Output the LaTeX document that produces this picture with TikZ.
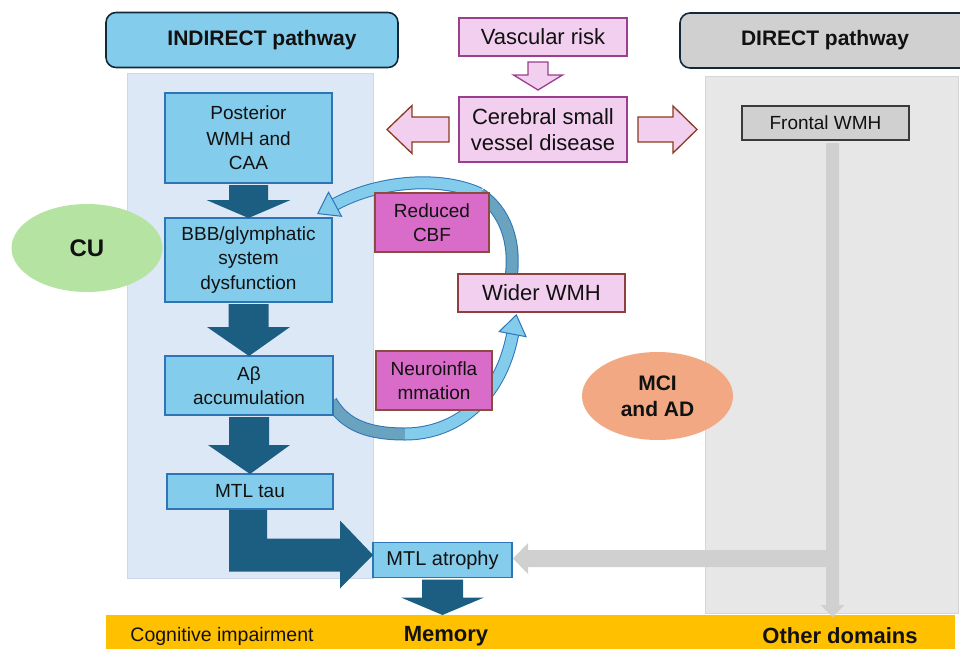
\documentclass[tikz,border=0pt]{standalone}
\usepackage{fontspec}
\setmainfont{Liberation Sans}
\usetikzlibrary{arrows.meta,calc,shapes.geometric}
\definecolor{hblue}{HTML}{83CCEB}
\definecolor{bblue}{HTML}{2E75B6}
\definecolor{hdredge}{HTML}{13293A}
\definecolor{panelblue}{HTML}{DCE8F5}
\definecolor{panelblueedge}{HTML}{C8D9EC}
\definecolor{darrow}{HTML}{1C5D82}
\definecolor{pinkf}{HTML}{F2CEEF}
\definecolor{purpleedge}{HTML}{9A3E8E}
\definecolor{brownedge}{HTML}{8A3A1E}
\definecolor{magf}{HTML}{D86CC8}
\definecolor{magedge}{HTML}{8C4A40}
\definecolor{wideredge}{HTML}{8E4040}
\definecolor{grayhdr}{HTML}{D0D0D0}
\definecolor{graypanel}{HTML}{E7E7E7}
\definecolor{graypaneledge}{HTML}{D6D6D6}
\definecolor{grayarrow}{HTML}{D0D0D0}
\definecolor{frontaledge}{HTML}{3A3A3A}
\definecolor{barY}{HTML}{FFC000}
\definecolor{cugreen}{HTML}{B5E3A2}
\definecolor{mciorange}{HTML}{F2A983}
\definecolor{arcdark}{HTML}{69A3BF}
\definecolor{txt}{HTML}{111111}
\newcommand{\bdown}[6]{%
  \fill[#1] ($#2+(-#4,2)$) -- ($#2+(#4,2)$) -- ($#2+(#4,#6)$) -- ($#2+(#5,#6)$) -- #3 -- ($#2+(-#5,#6)$) -- ($#2+(-#4,#6)$) -- cycle;}
\begin{document}
\begin{tikzpicture}[x=1pt,y=-1pt,
  every node/.style={inner sep=0pt, outer sep=0pt, text=txt},
  hdr/.style={rectangle, rounded corners=10pt, line width=1.6pt, draw=hdredge, font=\bfseries\fontsize{21}{25}\selectfont},
  panelbox/.style={rectangle, line width=0.8pt},
  bluebox/.style={rectangle, draw=bblue, fill=hblue, line width=1.3pt, align=center, font=\fontsize{19}{24.5}\selectfont},
  pinkbox/.style={rectangle, draw=purpleedge, fill=pinkf, line width=1.3pt, align=center, font=\fontsize{22}{26}\selectfont},
  magbox/.style={rectangle, draw=magedge, fill=magf, line width=1.3pt, align=center, font=\fontsize{19}{24}\selectfont},
  oval/.style={ellipse, align=center, font=\bfseries\fontsize{21}{26}\selectfont},
  darkarr/.style={fill=darrow},
  hollowP/.style={fill=pinkf, draw=purpleedge, line width=1.3pt},
  hollowB/.style={fill=pinkf, draw=brownedge, line width=1.3pt},
  bartext/.style={font=\fontsize{19.5}{22}\selectfont},
  bartextb/.style={font=\bfseries\fontsize{22}{24}\selectfont},
  arcL/.style={draw=bblue, double=hblue, double distance=11pt, line width=1pt},
  arcD/.style={draw=bblue, double=arcdark, double distance=11pt, line width=1pt},
  arctip/.style={-{Triangle[width=29pt,length=21pt,fill=hblue,color=bblue,line width=1pt]}}
]
\useasboundingbox (0,0) rectangle (960,648);

% panels
\node[panelbox, fill=panelblue, draw=panelblueedge, minimum width=246, minimum height=505] (ipanel) at (250,325.5) {};
\node[panelbox, fill=graypanel, draw=graypaneledge, minimum width=253, minimum height=537] (dpanel) at (831.5,344.5) {};

% headers
\node[hdr, fill=hblue, minimum width=292, minimum height=55] (ihdr) at (252,40) {\hspace*{20pt}INDIRECT pathway};
\node[hdr, fill=grayhdr, minimum width=310, minimum height=55] (dhdr) at (835,40.5) {DIRECT pathway\hspace*{20pt}};

% ellipses
\node[oval, fill=cugreen, minimum width=151, minimum height=88, font=\bfseries\fontsize{24}{28}\selectfont] (cu) at (87,248) {CU};
\node[oval, fill=mciorange, minimum width=151, minimum height=88] (mci) at (657.5,396) {MCI\\and AD};

% bottom bar
\node[rectangle, fill=barY, minimum width=849, minimum height=36] (bar) at (530.5,633) {};
\node[bartext] (ci) at (222,636) {Cognitive impairment};
\node[bartextb] (mem) at (446,636) {Memory};
\node[bartextb] (oth) at (840,636) {Other domains};

% placeholder nodes for boxes (positions), drawn later
\path node[bluebox, minimum width=167, minimum height=84, draw=none, fill=none] (bbb) at (248.5,260) {}
      node[pinkbox, minimum width=167, minimum height=38, draw=none, fill=none] (wider) at (541.5,293) {}
      node[bluebox, minimum width=168, minimum height=59, draw=none, fill=none] (abeta) at (249,385.5) {};

% curved arrows
\coordinate (a1s) at ($(wider.north)+(-30,0)$);
\coordinate (a1m) at (480,194);
\coordinate (a1e) at ($(bbb.north east)+(-15,-4)$);
\draw[arcD] (a1s) .. controls (515,242) and (506,212) .. (a1m);
\draw[arcL, arctip] (a1m) .. controls (442,176) and (380,180) .. (a1e);

\coordinate (a2s) at ($(abeta.east)+(-2,16)$);
\coordinate (a2m) at (405,434);
\coordinate (a2e) at ($(wider.south)+(-25,2)$);
\draw[arcD] (a2s) .. controls (345,426) and (370,434) .. (a2m);
\draw[arcL, arctip] (a2m) .. controls (455,434) and (500,400) .. (a2e);

% boxes
\node[pinkbox] (vr) at (543,37) [minimum width=168, minimum height=38] {Vascular risk};
\node[pinkbox] (csvd) at (543,129.5) [minimum width=168, minimum height=65] {Cerebral small\\vessel disease};
\node[rectangle, draw=frontaledge, fill=grayhdr, line width=1.3pt, minimum width=167, minimum height=34, font=\fontsize{19}{24}\selectfont] (frontal) at (825.5,123) {Frontal WMH};
\node[bluebox, minimum width=167, minimum height=90] (post) at (248.5,138) {Posterior\\[1pt]WMH and\\CAA};
\node[bluebox, minimum width=167, minimum height=84] (bbb) at (248.5,260) {BBB/glymphatic\\system\\dysfunction};
\node[bluebox, minimum width=168, minimum height=59] (abeta) at (249,385.5) {Aβ\\accumulation};
\node[bluebox, minimum width=166, minimum height=35] (tau) at (250,491.5) {MTL tau};
\node[bluebox, minimum width=139, minimum height=35, font=\fontsize{20}{24}\selectfont] (atro) at (442.5,560) {MTL atrophy};
\node[magbox, minimum width=114, minimum height=59] (cbf) at (432,222.5) {Reduced\\CBF};
\node[magbox, minimum width=116, minimum height=59] (neuro) at (434,380.5) {Neuroinfla\\mmation};
\node[pinkbox, draw=wideredge, minimum width=167, minimum height=38] (wider) at (541.5,293) {Wider WMH};

% hollow arrows
\draw[hollowP] ($(vr.south)+(-15,6)$) -- ($(vr.south)+(5,6)$) -- ($(vr.south)+(5,19)$) -- ($(vr.south)+(19.5,19)$) -- ($(vr.south)+(-5,34)$) -- ($(vr.south)+(-29.5,19)$) -- ($(vr.south)+(-15,19)$) -- cycle;
\draw[hollowB] ($(csvd.west)+(-10,-12.5)$) -- ($(csvd.west)+(-10,12.5)$) -- ($(csvd.west)+(-47,12.5)$) -- ($(csvd.west)+(-47,24)$) -- ($(csvd.west)+(-72,0)$) -- ($(csvd.west)+(-47,-24)$) -- ($(csvd.west)+(-47,-12.5)$) -- cycle;
\draw[hollowB] ($(csvd.east)+(11,-12.5)$) -- ($(csvd.east)+(11,12.5)$) -- ($(csvd.east)+(46,12.5)$) -- ($(csvd.east)+(46,23.5)$) -- ($(csvd.east)+(70,0)$) -- ($(csvd.east)+(46,-23.5)$) -- ($(csvd.east)+(46,-12.5)$) -- cycle;

% dark block arrows
\bdown{darkarr}{(post.south)}{(bbb.north)}{19.5}{42}{17}
\bdown{darkarr}{(bbb.south)}{(abeta.north)}{20}{41.5}{25}
\bdown{darkarr}{(abeta.south)}{(tau.north)}{20}{41}{30}
\bdown{darkarr}{(atro.south)}{(atro.south |- bar.north)}{20.5}{41.5}{20}

\coordinate (ls) at ($(tau.south)+(-2,1)$);
\coordinate (lt) at ($(atro.west)+(0,-5)$);
\fill[darkarr] ($(ls)+(-19,0)$) -- ($(ls)+(19,0)$) -- ($(lt -| ls)+(19,-16.5)$) -- ($(lt)+(-33,-16.5)$) -- ($(lt)+(-33,-34.5)$) -- (lt) -- ($(lt)+(-33,33.5)$) -- ($(lt)+(-33,16.5)$) -- ($(lt -| ls)+(-19,16.5)$) -- cycle;

% gray arrow
\coordinate (gtop) at ($(frontal.south)+(7,3)$);
\coordinate (gtip) at ($(frontal.south |- bar.north)+(7,2)$);
\coordinate (htip) at ($(atro.east)+(1,-1.5)$);
\fill[grayarrow] ($(gtop)+(-6.5,0)$) -- ($(gtop)+(6.5,0)$) -- ($(gtip)+(6.5,-12)$) -- ($(gtip)+(12,-12)$) -- (gtip) -- ($(gtip)+(-12,-12)$) -- ($(gtip)+(-6.5,-12)$) -- ($(htip -| gtop)+(-6.5,8.5)$) -- ($(htip)+(15,8.5)$) -- ($(htip)+(15,15.5)$) -- (htip) -- ($(htip)+(15,-15.5)$) -- ($(htip)+(15,-8.5)$) -- ($(htip -| gtop)+(-6.5,-8.5)$) -- cycle;
\end{tikzpicture}
\end{document}
